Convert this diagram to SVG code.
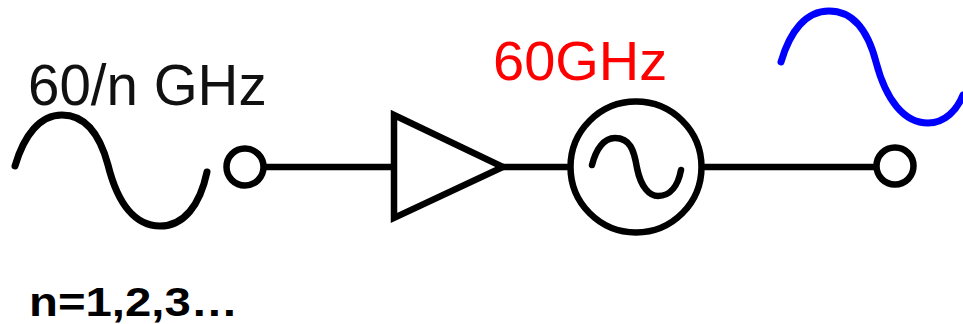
<svg xmlns="http://www.w3.org/2000/svg" width="963" height="324" viewBox="0 0 963 324">
<style>
.w{fill:none;stroke:#000;stroke-width:6.5;stroke-linecap:round;stroke-linejoin:miter}
.t{font-family:"Liberation Sans",Arial,sans-serif}
</style>
<rect width="963" height="324" fill="#fff"/>
<g id="connectors">
<path class="w" style="stroke-linecap:butt" d="M264 167H394M503 167H569M703 167H876"/>
</g>
<g id="input-wave"><path class="w" style="stroke-width:7" d="M15 166C24 135 40 115 62 115C86 115 100 135 108 165C118 205 136 226 160 226C184 226 200 205 207 172"/></g>
<g id="input-port"><circle class="w" cx="245" cy="167" r="18.5"/></g>
<g id="amplifier"><path class="w" d="M394 115L503 167L394 218Z"/></g>
<g id="source"><circle class="w" cx="636" cy="167" r="65.5"/><path class="w" d="M592 165C596 149 604 138 615 138C630 138 634 150 637 168C641 188 650 196 658 196C670 196 678 186 681 170"/></g>
<g id="output-port"><circle class="w" cx="895" cy="166" r="18.5"/></g>
<g id="output-wave"><path d="M781 62C790 31 806 11 829 11C853 11 868 31 876 62C886 100 904 123 928 123C945 123 957 110 963 95" fill="none" stroke="#00f" stroke-width="7" stroke-linecap="round"/></g>
<text class="t" x="28" y="105" font-size="56.5" fill="#111">60/n GHz</text>
<text class="t" x="493" y="80" font-size="56" fill="#f00">60GHz</text>
<text class="t" x="29" y="315.5" font-size="40" font-weight="bold" textLength="209" lengthAdjust="spacingAndGlyphs" fill="#000">n=1,2,3…</text>
</svg>
